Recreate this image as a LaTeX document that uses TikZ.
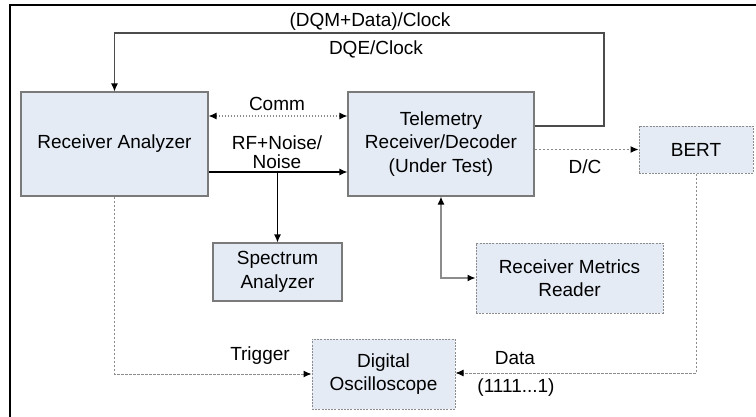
\documentclass[tikz,border=0pt]{standalone}
\usepackage{fontspec}
\setmainfont{Liberation Sans}
\usetikzlibrary{arrows.meta}
\definecolor{boxfill}{HTML}{E4EBF5}
\definecolor{boxline}{HTML}{7A7A7A}
\definecolor{conn}{HTML}{8C8C8C}
\tikzset{
  blk/.style={draw=boxline, line width=1.1pt, fill=boxfill, align=center, inner sep=0pt,
    font=\fontsize{19}{23.5}\selectfont},
  dblk/.style={blk, draw=conn, line width=1pt, dash pattern=on 2pt off 1.2pt},
  lbl/.style={font=\fontsize{19}{21}\selectfont, inner sep=0pt, anchor=center},
  tip/.style={-{Latex[length=8pt,width=7pt,color=black]}},
  btip/.style={{Latex[length=8pt,width=7pt,color=black]}-{Latex[length=8pt,width=7pt,color=black]}},
  solidc/.style={draw=black!70, line width=1.1pt},
  grayc/.style={draw=conn, line width=1.3pt},
  dashc/.style={draw=conn, line width=1pt, dash pattern=on 2.5pt off 1.5pt},
  dotc/.style={draw=conn, line width=1.2pt, dash pattern=on 1.5pt off 1.5pt},
}
\begin{document}
\begin{tikzpicture}[x=1pt,y=-1pt]
\useasboundingbox (0,0) rectangle (756,416);
\fill[white] (0,0) rectangle (756,416);
\draw[line width=2.5pt] (10,418) -- (10,5) -- (758,5);

\node[blk, minimum width=187pt, minimum height=104pt] (ra) at (114.5,144) {Receiver Analyzer};
\node[blk, minimum width=186pt, minimum height=104pt] (tel) at (441,144) {Telemetry\\Receiver/Decoder\\(Under Test)};
\node[blk, minimum width=129pt, minimum height=58pt] (spec) at (277.5,272) {Spectrum\\Analyzer};
\node[dblk, minimum width=143pt, minimum height=70pt] (osc) at (383.5,374) {Digital\\Oscilloscope};
\node[dblk, minimum width=114pt, minimum height=47pt] (bert) at (696,149.5) {BERT};
\node[dblk, minimum width=187pt, minimum height=70pt] (rmr) at (569.5,278) {Receiver Metrics\\Reader};

\coordinate (loopa) at (604,126);
\coordinate (loopb) at (604,33);
\coordinate (loopc) at (114.5,33);
\draw[solidc, tip] (tel.east |- loopa) -- (loopa) -- (loopb) -- (loopc) -- (ra.north);

\coordinate (commy) at (0,116);
\draw[dotc, btip] (ra.east |- commy) -- (tel.west |- commy);

\coordinate (rfy) at (0,172);
\coordinate (rfsplit) at (277.5,172);
\draw[solidc, draw=black, tip] (ra.east |- rfy) -- (tel.west |- rfy);
\draw[solidc, draw=black, tip] (rfsplit) -- (spec.north);

\coordinate (dcy) at (0,149.5);
\draw[dashc, tip] (tel.east |- dcy) -- (bert.west);

\coordinate (datac) at (696,373);
\draw[dashc, tip] (bert.south) -- (datac) -- (osc.east |- datac);

\coordinate (trigc) at (114.5,374);
\draw[dashc, tip] (ra.south) -- (trigc) -- (osc.west);

\coordinate (rmrc) at (441,278);
\draw[grayc, btip] (tel.south) -- (rmrc) -- (rmr.west);

\node[lbl] (l1) at (370,22) {(DQM+Data)/Clock};
\node[lbl] (l2) at (376,49) {DQE/Clock};
\node[lbl] (l3) at (277,104) {Comm};
\node[lbl] (l4) at (277,143) {RF+Noise/};
\node[lbl] (l5) at (277,162) {Noise};
\node[lbl] (l6) at (585,167) {D/C};
\node[lbl] (l7) at (260,356) {Trigger};
\node[lbl] (l8) at (515,358) {Data};
\node[lbl] (l9) at (516,388) {(1111...1)};
\end{tikzpicture}
\end{document}
